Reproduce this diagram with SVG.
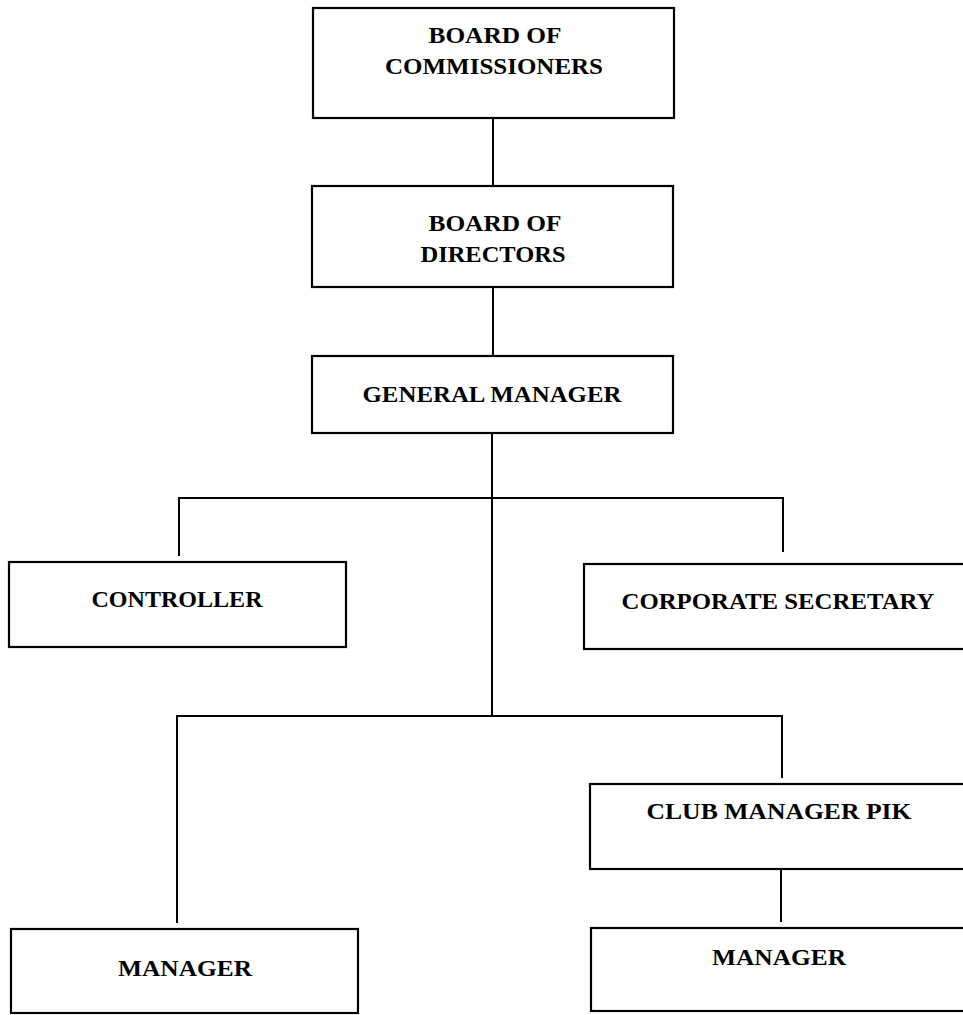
<svg xmlns="http://www.w3.org/2000/svg" width="963" height="1015" viewBox="0 0 963 1015">
<style>
.box{fill:#fff;stroke:#000;stroke-width:2.2}
.ln{fill:none;stroke:#000;stroke-width:2}
.t{font-family:"Liberation Serif",serif;font-weight:bold;font-size:23.5px;fill:#000;text-anchor:middle}
</style>
<rect width="963" height="1015" fill="#fff"/>
<g id="connectors">
<line class="ln" x1="493" y1="118" x2="493" y2="186"/>
<line class="ln" x1="493" y1="287" x2="493" y2="356" stroke-width="1.6"/>
<line class="ln" x1="492" y1="433" x2="492" y2="716"/>
<polyline class="ln" points="179,556 179,498 783,498 783,552"/>
<polyline class="ln" points="177,923 177,716 782,716 782,778"/>
<line class="ln" x1="781" y1="869" x2="781" y2="922"/>
</g>
<g id="board-commissioners">
<rect class="box" x="313" y="8" width="361" height="110"/>
<text class="t" x="495" y="43" textLength="133" lengthAdjust="spacingAndGlyphs">BOARD OF</text>
<text class="t" x="494" y="74" textLength="218" lengthAdjust="spacingAndGlyphs">COMMISSIONERS</text>
</g>
<g id="board-directors">
<rect class="box" x="312" y="186" width="361" height="101"/>
<text class="t" x="495" y="231" textLength="133" lengthAdjust="spacingAndGlyphs">BOARD OF</text>
<text class="t" x="493" y="262" textLength="145" lengthAdjust="spacingAndGlyphs">DIRECTORS</text>
</g>
<g id="general-manager">
<rect class="box" x="312" y="356" width="361" height="77"/>
<text class="t" x="492" y="402" textLength="259" lengthAdjust="spacingAndGlyphs">GENERAL MANAGER</text>
</g>
<g id="controller">
<rect class="box" x="9" y="562" width="337" height="85"/>
<text class="t" x="177" y="607" textLength="171" lengthAdjust="spacingAndGlyphs">CONTROLLER</text>
</g>
<g id="corporate-secretary">
<rect class="box" x="584" y="564" width="385" height="85"/>
<text class="t" x="778" y="609" textLength="313" lengthAdjust="spacingAndGlyphs">CORPORATE  SECRETARY</text>
</g>
<g id="club-manager-pik">
<rect class="box" x="590" y="784" width="379" height="85"/>
<text class="t" x="779" y="819" textLength="265" lengthAdjust="spacingAndGlyphs">CLUB  MANAGER  PIK</text>
</g>
<g id="manager-left">
<rect class="box" x="11" y="929" width="347" height="84"/>
<text class="t" x="185" y="976" textLength="134" lengthAdjust="spacingAndGlyphs">MANAGER</text>
</g>
<g id="manager-right">
<rect class="box" x="591" y="928" width="378" height="83"/>
<text class="t" x="779" y="965" textLength="134" lengthAdjust="spacingAndGlyphs">MANAGER</text>
</g>
</svg>
